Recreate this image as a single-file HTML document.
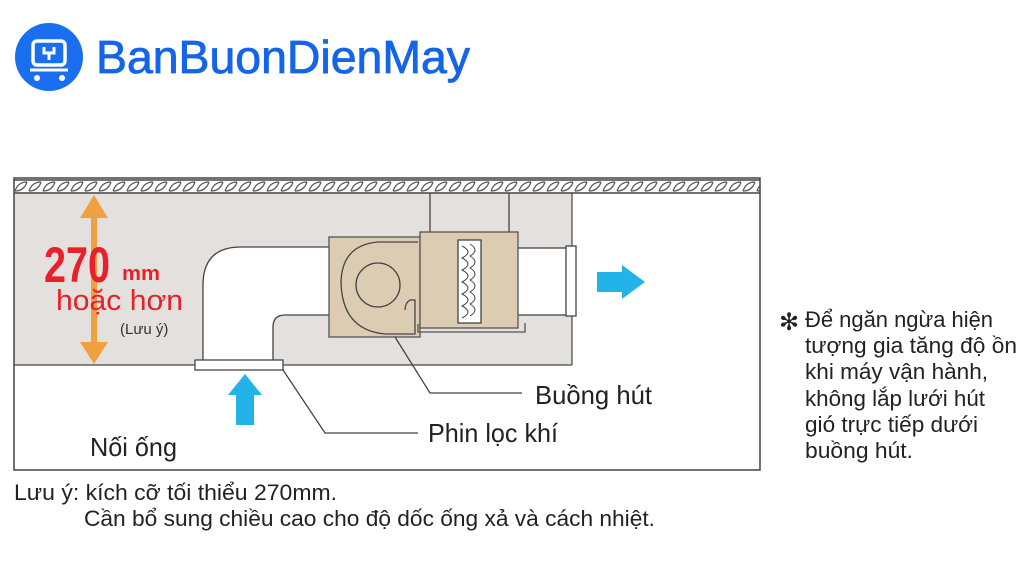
<!DOCTYPE html>
<html><head><meta charset="utf-8"><style>body{margin:0;background:#fff}svg{display:block}</style></head><body>
<svg width="1024" height="576" viewBox="0 0 1024 576" xmlns="http://www.w3.org/2000/svg" font-family="Liberation Sans, sans-serif">
<defs>
<pattern id="h" width="14" height="13" patternUnits="userSpaceOnUse" x="14" y="180">
<rect width="14" height="13" fill="#fff"/>
<path d="M1 11 Q4 2 13 2 M1 11 Q10 11 13 2" stroke="#555" stroke-width="1.2" fill="none"/>
</pattern>
</defs>
<!-- logo -->
<circle cx="49" cy="57" r="34" fill="#1a6ef0"/>
<rect x="33" y="41" width="32" height="24" rx="4" fill="none" stroke="#fff" stroke-width="3.5"/>
<path d="M44 47 v6 h10 v-6 M49 53 v7" stroke="#fff" stroke-width="3" fill="none"/>
<path d="M30 70 h38" stroke="#fff" stroke-width="3"/>
<circle cx="37" cy="78" r="3" fill="#fff"/><circle cx="62" cy="78" r="3" fill="#fff"/>
<text x="96" y="73" font-size="46" fill="#1565e8" stroke="#1565e8" stroke-width="0.8" textLength="374" lengthAdjust="spacingAndGlyphs">BanBuonDienMay</text>
<!-- frame -->
<rect x="14" y="193" width="558" height="172" fill="#e3e0de"/>
<rect x="14" y="180" width="746" height="13" fill="url(#h)"/>
<line x1="14" y1="180" x2="760" y2="180" stroke="#444" stroke-width="1.5"/>
<line x1="14" y1="193" x2="760" y2="193" stroke="#444" stroke-width="1.5"/>
<rect x="14" y="178" width="746" height="292" fill="none" stroke="#444" stroke-width="1.5"/>
<line x1="14" y1="365" x2="572" y2="365" stroke="#444" stroke-width="1.2"/>
<line x1="572" y1="193" x2="572" y2="365" stroke="#444" stroke-width="1.2"/>
<!-- orange arrow -->
<path d="M94 195 L108 218 L97 218 L97 342 L108 342 L94 364 L80 342 L91 342 L91 218 L80 218 Z" fill="#f0a040"/>
<text x="44" y="282" font-size="50" style="font-weight:700" fill="#e8202a" textLength="66" lengthAdjust="spacingAndGlyphs">270</text>
<text x="122" y="280" font-size="20" style="font-weight:700" fill="#e8202a" textLength="38" lengthAdjust="spacingAndGlyphs">mm</text>
<text x="56" y="310" font-size="29" fill="#e8202a" textLength="127" lengthAdjust="spacingAndGlyphs">hoặc hơn</text>
<text x="120" y="334" font-size="15" fill="#333">(Lưu ý)</text>
<!-- duct elbow -->
<path d="M203 362 L203 285 Q203 247 241 247 L330 247 L330 315 L285 315 Q273 315 273 327 L273 362 Z" fill="#fff" stroke="#444" stroke-width="1.3"/>
<rect x="195" y="360" width="88" height="10" fill="#fff" stroke="#444" stroke-width="1.3"/>
<!-- right duct -->
<rect x="516" y="248" width="52" height="67" fill="#fff" stroke="#444" stroke-width="1.3"/>
<rect x="566" y="246" width="10" height="70" fill="#fff" stroke="#444" stroke-width="1.3"/>
<!-- hangers -->
<line x1="430" y1="193" x2="430" y2="240" stroke="#444" stroke-width="1.3"/>
<line x1="509" y1="193" x2="509" y2="240" stroke="#444" stroke-width="1.3"/>
<!-- fan box -->
<rect x="329" y="237" width="91" height="100" fill="#dccdb2" stroke="#555" stroke-width="1.3"/>
<path d="M418 242 L378 242 Q342 245 341 282 Q342 330 385 334 L415 334 L415 300 L410 300 Q405 303 405 310" fill="none" stroke="#444" stroke-width="1.3"/>
<circle cx="378" cy="285" r="22" fill="none" stroke="#444" stroke-width="1.3"/>
<rect x="420" y="232" width="98" height="96" fill="#dccdb2" stroke="#555" stroke-width="1.3"/>
<path d="M418 324 L418 332 L525 332 L525 323" fill="none" stroke="#555" stroke-width="1.3"/>
<rect x="458" y="240" width="23" height="83" fill="#fff" stroke="#444" stroke-width="1.3"/>
<path d="M462 246 q12 6 0 12 q12 6 0 12 q12 6 0 12 q12 6 0 12 q12 6 0 12 q12 6 0 12 M470 244 q10 6 0 12 q10 6 0 12 q10 6 0 12 q10 6 0 12 q10 6 0 12 q10 6 0 12" fill="none" stroke="#444" stroke-width="1"/>
<!-- cyan arrows -->
<path d="M597 272 L622 272 L622 265 L645 282 L622 299 L622 292 L597 292 Z" fill="#22b3e8"/>
<path d="M245 374 L262 395 L254 395 L254 425 L236 425 L236 395 L228 395 Z" fill="#22b3e8"/>
<!-- leaders -->
<polyline points="395,337 430,393 522,393" fill="none" stroke="#444" stroke-width="1.3"/>
<polyline points="283,370 325,433 418,433" fill="none" stroke="#444" stroke-width="1.3"/>
<text x="535" y="404" font-size="26" fill="#222" textLength="117" lengthAdjust="spacingAndGlyphs">Buồng hút</text>
<text x="428" y="442" font-size="26" fill="#222" textLength="130" lengthAdjust="spacingAndGlyphs">Phin lọc khí</text>
<text x="90" y="456" font-size="26" fill="#222" textLength="87" lengthAdjust="spacingAndGlyphs">Nối ống</text>
<!-- notes -->
<text x="14" y="500" font-size="22" fill="#222" textLength="323" lengthAdjust="spacingAndGlyphs">Lưu ý: kích cỡ tối thiểu 270mm.</text>
<text x="84" y="526" font-size="22" fill="#222" textLength="571" lengthAdjust="spacingAndGlyphs">Cần bổ sung chiều cao cho độ dốc ống xả và cách nhiệt.</text>
<text x="779" y="330" font-size="24" fill="#222">✻</text>
<g font-size="22" fill="#222">
<text x="805" y="327" textLength="188" lengthAdjust="spacingAndGlyphs">Để ngăn ngừa hiện</text>
<text x="805" y="353" textLength="212" lengthAdjust="spacingAndGlyphs">tượng gia tăng độ ồn</text>
<text x="805" y="379" textLength="183" lengthAdjust="spacingAndGlyphs">khi máy vận hành,</text>
<text x="805" y="406" textLength="180" lengthAdjust="spacingAndGlyphs">không lắp lưới hút</text>
<text x="805" y="432" textLength="173" lengthAdjust="spacingAndGlyphs">gió trực tiếp dưới</text>
<text x="805" y="458" textLength="108" lengthAdjust="spacingAndGlyphs">buồng hút.</text>
</g>
</svg>
</body></html>
